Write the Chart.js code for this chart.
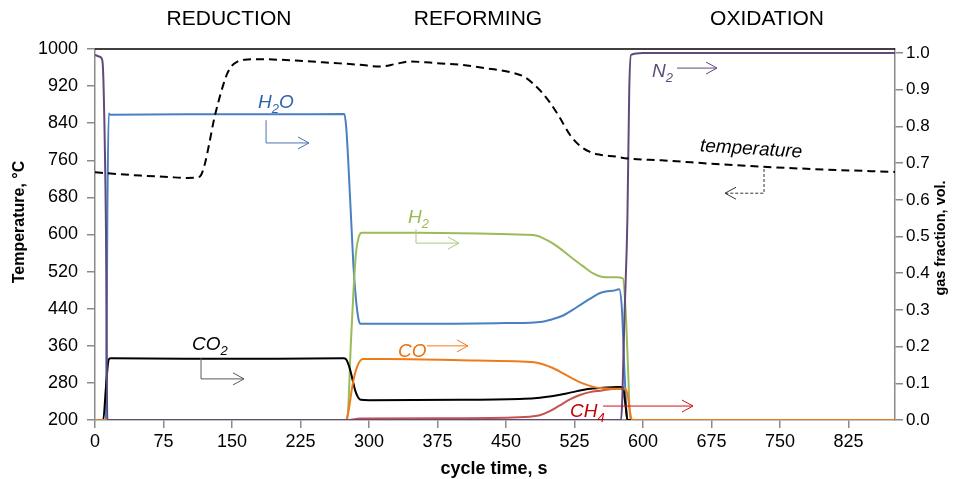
<!DOCTYPE html>
<html>
<head>
<meta charset="utf-8">
<style>
  html, body { margin: 0; padding: 0; background: #fff; }
  #wrap { width: 955px; height: 479px; }
</style>
<script src="https://cdn.jsdelivr.net/npm/chart.js@4.4.1/dist/chart.umd.min.js"></script>
</head>
<body>
<div id="wrap"><canvas id="cycle-chart" width="955" height="479"></canvas></div>
<script>
// cycle time, s  /  temperature, °C (left axis)
const tempTime = [0, 20, 50, 80, 100, 112, 116, 120, 125, 130, 135, 140, 145, 150, 156, 164, 180, 220, 260, 290, 312, 330, 345, 370, 400, 430, 455, 470, 480, 490, 498, 508, 520, 530, 542, 553, 570, 583, 620, 680, 732, 800, 876];
const tempValues = [734, 731, 727, 724, 722, 723, 728, 750, 795, 845, 885, 920, 948, 964, 973, 977, 978, 975, 970, 966, 962, 968, 973, 970, 966, 958, 950, 940, 925, 905, 885, 855, 815, 793, 778, 772, 768, 764, 760, 752, 746, 740, 735];

// gas fractions, vol. (right axis)
const h2oTime = [0, 12, 13.5, 15, 17, 100, 200, 273, 275, 277, 279, 281, 283, 285, 287, 289, 291, 350, 450, 490, 500, 512, 523, 534, 545, 553, 561, 567, 574, 577, 580, 583, 876];
const h2oValues = [0, 0, 0.55, 0.835, 0.832, 0.833, 0.833, 0.834, 0.80, 0.72, 0.62, 0.52, 0.42, 0.35, 0.30, 0.27, 0.262, 0.262, 0.264, 0.268, 0.274, 0.284, 0.30, 0.318, 0.335, 0.346, 0.351, 0.352, 0.356, 0.30, 0.12, 0, 0];

const h2Time = [0, 275, 277, 280, 283, 286, 289, 292, 350, 420, 470, 484, 495, 505, 512, 523, 534, 545, 556, 571, 578, 581, 584, 586, 876];
const h2Values = [0, 0, 0.02, 0.2, 0.35, 0.46, 0.50, 0.51, 0.51, 0.508, 0.505, 0.502, 0.49, 0.475, 0.462, 0.44, 0.42, 0.40, 0.39, 0.389, 0.386, 0.3, 0.12, 0, 0];

const coTime = [0, 275, 278, 281, 284, 287, 290, 293, 320, 400, 460, 484, 500, 512, 523, 534, 545, 553, 571, 580, 583, 586, 588, 876];
const coValues = [0, 0, 0.03, 0.08, 0.12, 0.145, 0.16, 0.166, 0.166, 0.163, 0.16, 0.156, 0.143, 0.128, 0.113, 0.1, 0.091, 0.087, 0.085, 0.085, 0.07, 0.02, 0, 0];

const co2Time = [0, 9, 12, 15, 17, 100, 200, 272, 275, 279, 282, 285, 288, 291, 300, 400, 470, 484, 500, 512, 523, 534, 545, 553, 571, 578, 581, 583, 876];
const co2Values = [0, 0, 0.09, 0.165, 0.168, 0.167, 0.167, 0.168, 0.165, 0.14, 0.11, 0.08, 0.062, 0.055, 0.054, 0.055, 0.058, 0.06, 0.065, 0.07, 0.076, 0.082, 0.086, 0.087, 0.09, 0.09, 0.04, 0, 0];

const ch4Time = [0, 278, 290, 400, 470, 487, 498, 509, 520, 531, 542, 553, 562, 571, 578, 581, 583, 876];
const ch4Values = [0, 0, 0.004, 0.005, 0.008, 0.013, 0.024, 0.04, 0.056, 0.068, 0.076, 0.08, 0.083, 0.085, 0.086, 0.04, 0, 0];

const n2Time = [0, 5, 8, 9.5, 12, 13.5, 576, 580, 583, 585, 587, 600, 876];
const n2Values = [0.995, 0.99, 0.98, 0.9, 0.52, 0, 0, 0.3, 0.55, 0.9, 0.995, 1.0, 1.0];

// tick labels
const timeTicks = [0, 75, 150, 225, 300, 375, 450, 525, 600, 675, 750, 825];
const tempTicks = [200, 280, 360, 440, 520, 600, 680, 760, 840, 920, 1000];
const fracTicks = [0, 0.1, 0.2, 0.3, 0.4, 0.5, 0.6, 0.7, 0.8, 0.9, 1.0];

const phases = ["REDUCTION", "REFORMING", "OXIDATION"];
const phaseCentre = [146.7, 419.4, 735.9]; // s

(function () {
  const FONT = '"Liberation Sans", Arial, Helvetica, sans-serif';
  const AXIS = "#8a8a8a";

  function pts(ts, vs) {
    return ts.map(function (t, i) { return { x: t, y: vs[i] }; });
  }

  // labels & arrows placed in data units (time, gas fraction)
  const labels = [
    { parts: [["H"], ["2", 1], ["O"]], t: 178.5, f: 0.850, color: "#2f65ad" },
    { parts: [["CO"], ["2", 1]], t: 106.2, f: 0.191, color: "#000000" },
    { parts: [["H"], ["2", 1]], t: 342.7, f: 0.537, color: "#9bbb59" },
    { parts: [["CO"]], t: 331.8, f: 0.172, color: "#e8730f" },
    { parts: [["CH"], ["4", 1]], t: 520.1, f: 0.008, color: "#c00000" },
    { parts: [["N"], ["2", 1]], t: 610, f: 0.934, color: "#604a7b" },
  ];
  const arrows = [
    { path: [[187.3, 0.817], [187.3, 0.755], [234.3, 0.755]], color: "#4a72ad" },
    { path: [[116.1, 0.169], [116.1, 0.112], [163.2, 0.112]], color: "#595959" },
    { path: [[351.5, 0.520], [351.5, 0.482], [398.6, 0.482]], color: "#a9c97c" },
    { path: [[363.5, 0.202], [408.4, 0.202]], color: "#ef7d22" },
    { path: [[556.3, 0.038], [654.8, 0.038]], color: "#d0121b" },
    { path: [[637.3, 0.959], [681.1, 0.959]], color: "#604a7b" },
    { path: [[732.6, 0.684], [732.6, 0.618], [689.9, 0.618]], color: "#333333", dash: [3, 2] },
  ];

  function drawArrow(ctx, p, color, dash) {
    ctx.save();
    ctx.strokeStyle = color;
    ctx.lineWidth = 1;
    ctx.setLineDash(dash || []);
    ctx.beginPath();
    ctx.moveTo(p[0][0], p[0][1]);
    for (let i = 1; i < p.length; i++) ctx.lineTo(p[i][0], p[i][1]);
    ctx.stroke();
    const a = p[p.length - 2], b = p[p.length - 1];
    const ang = Math.atan2(b[1] - a[1], b[0] - a[0]);
    ctx.setLineDash([]);
    ctx.beginPath();
    ctx.moveTo(b[0] - 11 * Math.cos(ang) + 6 * Math.sin(ang), b[1] - 11 * Math.sin(ang) - 6 * Math.cos(ang));
    ctx.lineTo(b[0], b[1]);
    ctx.lineTo(b[0] - 11 * Math.cos(ang) - 6 * Math.sin(ang), b[1] - 11 * Math.sin(ang) + 6 * Math.cos(ang));
    ctx.stroke();
    ctx.restore();
  }

  const annotate = {
    id: "annotate",
    afterDatasetsDraw: function (chart) {
      const ctx = chart.ctx;
      const xs = chart.scales.x, ys = chart.scales.y1;
      const area = chart.chartArea;

      // top frame line
      ctx.save();
      ctx.strokeStyle = "#000";
      ctx.lineWidth = 1.5;
      ctx.beginPath();
      ctx.moveTo(area.left, area.top);
      ctx.lineTo(area.right, area.top);
      ctx.stroke();
      ctx.restore();

      arrows.forEach(function (a) {
        const p = a.path.map(function (q) { return [xs.getPixelForValue(q[0]), ys.getPixelForValue(q[1])]; });
        drawArrow(ctx, p, a.color, a.dash);
      });

      ctx.save();
      ctx.textBaseline = "alphabetic";
      ctx.textAlign = "left";
      labels.forEach(function (l) {
        let x = xs.getPixelForValue(l.t);
        const y = ys.getPixelForValue(l.f);
        ctx.fillStyle = l.color;
        l.parts.forEach(function (part) {
          ctx.font = "italic " + (part[1] ? 13 : 19) + "px " + FONT;
          ctx.fillText(part[0], x, y + (part[1] ? 5 : 0));
          x += ctx.measureText(part[0]).width;
        });
      });

      // temperature label, slightly tilted
      ctx.translate(xs.getPixelForValue(718.4), ys.getPixelForValue(0.738));
      ctx.rotate(3.5 * Math.PI / 180);
      ctx.font = "italic 19px " + FONT;
      ctx.fillStyle = "#000";
      ctx.textAlign = "center";
      ctx.textBaseline = "middle";
      ctx.fillText("temperature", 0, 0);
      ctx.restore();
    },
    afterDraw: function (chart) {
      const ctx = chart.ctx;
      const xs = chart.scales.x;
      ctx.save();
      ctx.fillStyle = "#000";
      ctx.textAlign = "center";
      ctx.textBaseline = "middle";
      ctx.font = "21px " + FONT;
      phases.forEach(function (p, i) {
        ctx.fillText(p, xs.getPixelForValue(phaseCentre[i]), 19);
      });

      ctx.font = "bold 18px " + FONT;
      ctx.fillText("cycle time, s", 494, 469);

      ctx.save();
      ctx.translate(20, 222);
      ctx.rotate(-Math.PI / 2);
      ctx.font = "bold 16px " + FONT;
      ctx.fillText("Temperature, °C", 0, 0);
      ctx.restore();

      ctx.save();
      ctx.translate(941, 238);
      ctx.rotate(-Math.PI / 2);
      ctx.font = "bold 14.5px " + FONT;
      ctx.fillText("gas fraction, vol.", 0, 0);
      ctx.restore();
      ctx.restore();
    },
  };

  function series(label, ts, vs, color, order, axis, extra) {
    return Object.assign({
      label: label,
      data: pts(ts, vs),
      borderColor: color,
      borderWidth: 2,
      pointRadius: 0,
      cubicInterpolationMode: "monotone",
      yAxisID: axis,
      order: order,
      fill: false,
    }, extra || {});
  }

  function run() {
    const canvas = document.getElementById("cycle-chart");
    if (!canvas || !window.Chart) return;

    const gridOpts = { drawOnChartArea: false, drawTicks: true, tickLength: 8, color: AXIS, lineWidth: 1.5 };
    const borderOpts = { display: true, color: AXIS, width: 1.5 };
    const tickFont = { family: FONT, size: 18 };
    const plain = function (v) { return String(v); };

    new Chart(canvas.getContext("2d"), {
      type: "line",
      data: {
        datasets: [
          series("temperature", tempTime, tempValues, "#000000", 0, "y", { borderDash: [8, 5] }),
          series("N2", n2Time, n2Values, "#604a7b", 1, "y1"),
          series("CO", coTime, coValues, "#ef7a1a", 2, "y1"),
          series("CO2", co2Time, co2Values, "#000000", 3, "y1"),
          series("H2", h2Time, h2Values, "#9bbb59", 4, "y1"),
          series("CH4", ch4Time, ch4Values, "#c8524f", 5, "y1"),
          series("H2O", h2oTime, h2oValues, "#4a7fc1", 6, "y1"),
        ],
      },
      options: {
        responsive: false,
        animation: false,
        devicePixelRatio: 1,
        layout: { padding: { top: 49, left: 0, right: 0, bottom: 0 } },
        plugins: { legend: { display: false }, tooltip: { enabled: false } },
        scales: {
          x: {
            type: "linear",
            min: 0,
            max: 876,
            grid: gridOpts,
            border: borderOpts,
            ticks: { font: tickFont, color: "#000", padding: 3, maxRotation: 0, autoSkip: false, callback: plain },
            afterBuildTicks: function (s) { s.ticks = timeTicks.map(function (v) { return { value: v }; }); },
            afterFit: function (s) { s.height = 59; },
          },
          y: {
            position: "left",
            min: 200,
            max: 1000,
            grid: gridOpts,
            border: borderOpts,
            ticks: { font: tickFont, color: "#000", padding: 9, callback: plain },
            afterBuildTicks: function (s) { s.ticks = tempTicks.map(function (v) { return { value: v }; }); },
            afterFit: function (s) { s.width = 95; },
          },
          y1: {
            position: "right",
            min: 0,
            max: 1.011,
            grid: gridOpts,
            border: borderOpts,
            ticks: {
              font: { family: FONT, size: 17 },
              color: "#000",
              padding: 3,
              callback: function (v) { return Number(v).toFixed(1); },
            },
            afterBuildTicks: function (s) { s.ticks = fracTicks.map(function (v) { return { value: v }; }); },
            afterFit: function (s) { s.width = 60; },
          },
        },
      },
      plugins: [annotate],
    });
  }

  if (document.readyState === "loading") {
    document.addEventListener("DOMContentLoaded", run);
  } else {
    run();
  }
})();
</script>
</body>
</html>
